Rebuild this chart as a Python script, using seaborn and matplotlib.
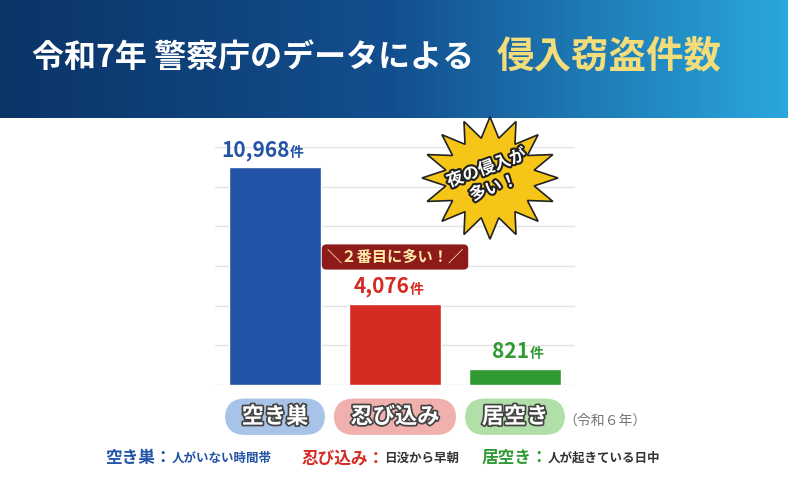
import matplotlib
matplotlib.use("Agg")
import matplotlib.pyplot as plt
import matplotlib.patheffects as pe
import seaborn as sns
import numpy as np
import pandas as pd
from matplotlib.patches import Polygon
from matplotlib.colors import LinearSegmentedColormap

categories = ["空き巣", "忍び込み", "居空き"]
values = [10968, 4076, 821]
value_labels = ["10,968", "4,076", "821"]
bar_colors = ["#2353a6", "#d42b22", "#2f9a32"]
pill_colors = ["#a8c3e8", "#f0b0ae", "#b0dfa8"]

sns.set_theme(style="white")
plt.rcParams['font.family'] = ['Noto Sans CJK JP', 'DejaVu Sans']

W, H = 788, 487
fig = plt.figure(figsize=(W/100, H/100), dpi=100)
def fx(x): return x / W
def fy(y): return 1 - y / H

hax = fig.add_axes([0, fy(118), 1, 118/H])
grad = np.linspace(0, 1, 256)[None, :]
cm = LinearSegmentedColormap.from_list("h", ["#0b3467", "#134f8f", "#2aa7dc"])
hax.imshow(grad, aspect="auto", cmap=cm, extent=[0, 1, 0, 1])
hax.axis("off")
fig.text(fx(32), fy(58), "令和7年 警察庁のデータによる", color="white", fontsize=23, fontweight="bold", va="center")
fig.text(fx(497), fy(56), "侵入窃盗件数", color="#f3dc7a", fontsize=27, fontweight="bold", va="center")

ax = fig.add_axes([fx(215), fy(385), 360/W, (385-147)/H])
df = pd.DataFrame({"cat": categories, "val": values})
sns.barplot(data=df, x="cat", y="val", hue="cat", palette=bar_colors, legend=False, width=0.76, ax=ax, saturation=1)
ax.set_ylim(0, 12000)
ax.set_yticks(np.arange(0, 12001, 2000))
ax.yaxis.grid(True, color="#e3e3e3", lw=1)
ax.set_axisbelow(True)
ax.tick_params(left=False, bottom=False, labelleft=False, labelbottom=False)
ax.set_xlabel(""); ax.set_ylabel("")
for s in ax.spines.values(): s.set_visible(False)
for i, (v, lab) in enumerate(zip(values, value_labels)):
    ax.text(i + 0.12, v + 350, lab, color=bar_colors[i], fontsize=15, fontweight="bold", ha="right", va="bottom")
    ax.text(i + 0.12, v + 380, "件", color=bar_colors[i], fontsize=10, fontweight="bold", ha="left", va="bottom")
    ax.text(i, -1600, "  " + categories[i] + "  ", color="white", fontsize=16, fontweight="bold", ha="center", va="center",
            bbox=dict(boxstyle="round,pad=0.3,rounding_size=0.9", fc=pill_colors[i], ec="none"),
            path_effects=[pe.withStroke(linewidth=2.5, foreground="#444444")])

cx, cy = 490, 178
ang = np.linspace(0, 2*np.pi, 33)[:-1]
r = np.where(np.arange(32) % 2 == 0, 68, 45)
pts = [(fx(cx + rr*np.cos(a)), fy(cy + rr*0.9*np.sin(a))) for rr, a in zip(r, ang)]
fig.patches.append(Polygon(pts, closed=True, transform=fig.transFigure, fc="#f5c518", ec="#222222", lw=1.2))
fig.text(fx(cx), fy(cy), "夜の侵入が\n多い！", rotation=20, ha="center", va="center", fontsize=12,
         fontweight="bold", color="white", linespacing=1.2,
         path_effects=[pe.withStroke(linewidth=3, foreground="#222222")])

fig.text(fx(395), fy(257), "＼２番目に多い！／", ha="center", va="center", fontsize=11, fontweight="bold",
         color="#ffe9a8", bbox=dict(boxstyle="round,pad=0.3", fc="#8e1a1a", ec="none"))
fig.text(fx(605), fy(421), "（令和６年）", ha="center", va="center", fontsize=10, color="#777777")

y = fy(458)
fig.text(fx(105), y, "空き巣：", color="#2353a6", fontsize=12, fontweight="bold", va="center")
fig.text(fx(172), y, "人がいない時間帯", color="#2353a6", fontsize=9, fontweight="bold", va="center")
fig.text(fx(302), y, "忍び込み：", color="#d42b22", fontsize=12, fontweight="bold", va="center")
fig.text(fx(384), y, "日没から早朝", color="#333333", fontsize=9, fontweight="bold", va="center")
fig.text(fx(482), y, "居空き：", color="#2f9a32", fontsize=12, fontweight="bold", va="center")
fig.text(fx(548), y, "人が起きている日中", color="#333333", fontsize=9, fontweight="bold", va="center")

fig.savefig("out.png", dpi=100)
